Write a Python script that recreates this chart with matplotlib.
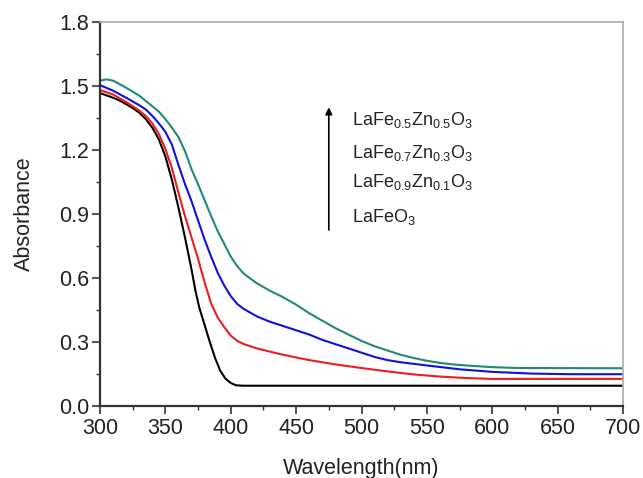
import numpy as np
import matplotlib
matplotlib.use("Agg")
import matplotlib.pyplot as plt
from matplotlib.ticker import MultipleLocator

plt.rcParams['font.family'] = ['Liberation Sans', 'DejaVu Sans']
plt.rcParams['mathtext.fontset'] = 'custom'
plt.rcParams['mathtext.rm'] = 'Liberation Sans'
plt.rcParams['mathtext.it'] = 'Liberation Sans'

# ---- data (wavelength nm, absorbance) ----
wl_x0 = [300, 305, 310, 315, 320, 325, 330, 335, 340, 345, 350, 355, 360, 365,
         370, 373, 376, 380, 384, 388, 392, 396, 400, 404, 410, 500, 600, 700]
abs_x0 = [1.467, 1.456, 1.445, 1.432, 1.415, 1.397, 1.375, 1.345, 1.305, 1.25,
          1.17, 1.06, 0.93, 0.79, 0.64, 0.54, 0.46, 0.38, 0.30, 0.225, 0.165,
          0.128, 0.108, 0.097, 0.095, 0.095, 0.095, 0.095]

wl_x01 = [300, 310, 320, 330, 335, 340, 345, 350, 355, 360, 365, 370, 375, 380,
          385, 390, 395, 400, 405, 410, 420, 430, 440, 460, 480, 500, 520, 540,
          560, 580, 600, 650, 700]
abs_x01 = [1.481, 1.46, 1.425, 1.385, 1.36, 1.325, 1.275, 1.205, 1.115, 1.0,
           0.89, 0.79, 0.69, 0.58, 0.48, 0.415, 0.37, 0.33, 0.305, 0.29, 0.27,
           0.255, 0.24, 0.215, 0.195, 0.178, 0.162, 0.148, 0.138, 0.131, 0.127,
           0.127, 0.127]

wl_x03 = [300, 310, 320, 330, 335, 340, 345, 350, 355, 360, 365, 370, 375, 380,
          385, 390, 395, 400, 405, 410, 420, 430, 440, 450, 460, 470, 480, 490,
          500, 510, 520, 530, 550, 575, 600, 630, 660, 700]
abs_x03 = [1.504, 1.478, 1.445, 1.41, 1.39, 1.36, 1.325, 1.285, 1.225, 1.13,
           1.04, 0.96, 0.87, 0.78, 0.70, 0.625, 0.565, 0.515, 0.478, 0.455, 0.42,
           0.395, 0.375, 0.355, 0.335, 0.31, 0.29, 0.27, 0.25, 0.23, 0.215, 0.205,
           0.19, 0.172, 0.16, 0.152, 0.149, 0.149]

wl_x05 = [300, 305, 310, 320, 330, 340, 345, 350, 355, 360, 365, 370, 375, 380,
          385, 390, 395, 400, 405, 410, 420, 430, 440, 450, 460, 470, 480, 490,
          500, 510, 520, 530, 540, 550, 560, 570, 580, 600, 620, 700]
abs_x05 = [1.525, 1.531, 1.525, 1.492, 1.455, 1.405, 1.38, 1.345, 1.305, 1.26,
           1.195, 1.11, 1.04, 0.965, 0.89, 0.82, 0.76, 0.70, 0.655, 0.62, 0.575,
           0.54, 0.51, 0.475, 0.435, 0.40, 0.365, 0.335, 0.305, 0.28, 0.26, 0.24,
           0.225, 0.212, 0.202, 0.195, 0.19, 0.182, 0.178, 0.177]

labels = [r'LaFe$_{0.5}$Zn$_{0.5}$O$_{3}$', r'LaFe$_{0.7}$Zn$_{0.3}$O$_{3}$',
          r'LaFe$_{0.9}$Zn$_{0.1}$O$_{3}$', r'LaFeO$_{3}$']
label_y = [1.317, 1.163, 1.027, 0.863]

fig = plt.figure(figsize=(6.43, 4.78), dpi=100)
ax = fig.add_axes([100/643, 1 - 406/478, 523/643, 384/478])

ax.plot(wl_x0, abs_x0, color='black', lw=1.5)
ax.plot(wl_x01, abs_x01, color='#ee1c1c', lw=1.5)
ax.plot(wl_x03, abs_x03, color='#1010e0', lw=1.5)
ax.plot(wl_x05, abs_x05, color='#1f8a78', lw=1.5)

ax.set_xlim(300, 700)
ax.set_ylim(0, 1.8)
ax.xaxis.set_major_locator(MultipleLocator(50))
ax.xaxis.set_minor_locator(MultipleLocator(25))
ax.yaxis.set_major_locator(MultipleLocator(0.3))
ax.yaxis.set_minor_locator(MultipleLocator(0.15))
ax.tick_params(which='major', direction='out', length=6, width=1.2, labelsize=15.5,
               colors='#333333', labelcolor='#222222')
ax.tick_params(which='minor', direction='out', length=3, width=1.0, colors='#333333')
ax.tick_params(axis='x', pad=3)
ax.tick_params(axis='y', pad=2)
ax.tick_params(top=False, right=False, which='both')

for s in ['left', 'bottom']:
    ax.spines[s].set_linewidth(1.6)
    ax.spines[s].set_color('#333333')
for s in ['top', 'right']:
    ax.spines[s].set_linewidth(1.2)
    ax.spines[s].set_color('#aaaaaa')

ax.set_xlabel('Wavelength(nm)', fontsize=15.5, labelpad=13, color='#222222')
ax.set_ylabel('Absorbance', fontsize=15.5, labelpad=17, color='#222222')

# composition arrow and labels
ax.annotate('', xy=(475, 1.40), xytext=(475, 0.825),
            arrowprops=dict(arrowstyle='-|>', color='black', lw=1.2,
                            mutation_scale=10, shrinkA=0, shrinkB=0))
for lab, yv in zip(labels, label_y):
    ax.text(492.5, yv, lab, fontsize=13, va='baseline', ha='left',
            color='#222222')

fig.savefig('out.png', dpi=100)
